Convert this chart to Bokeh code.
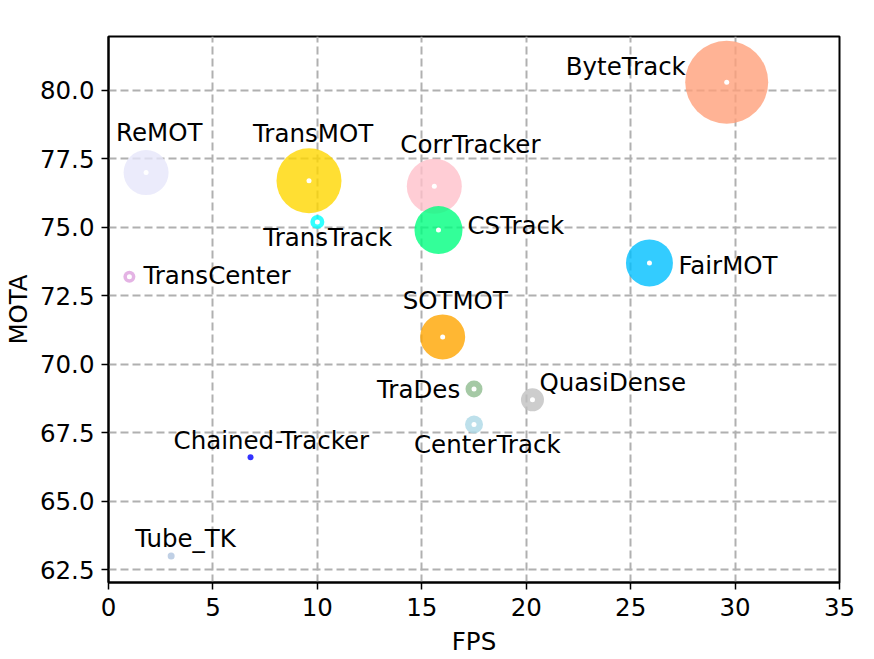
from bokeh.plotting import figure
from bokeh.models import ColumnDataSource, Range1d, FixedTicker, PrintfTickFormatter
from bokeh.core.properties import value
from bokeh.embed import file_html
from bokeh.resources import INLINE

# ---- data ----
trackers = ["ReMOT", "TransMOT", "TransTrack", "TransCenter", "CorrTracker", "CSTrack",
            "ByteTrack", "FairMOT", "SOTMOT", "TraDes", "QuasiDense", "CenterTrack",
            "Chained-Tracker", "Tube_TK"]
fps = [1.8, 9.6, 10.0, 1.0, 15.6, 15.8, 29.6, 25.9, 16.0, 17.5, 20.3, 17.5, 6.8, 3.0]
mota = [77.0, 76.7, 75.2, 73.2, 76.5, 74.9, 80.3, 73.7, 71.0, 69.1, 68.7, 67.8, 66.6, 63.0]
bubble = [45, 65, 14, 12, 55, 48, 83, 47, 45, 17, 23, 18, 6, 7]

x_ticks = [0, 5, 10, 15, 20, 25, 30, 35]
y_ticks = [62.5, 65.0, 67.5, 70.0, 72.5, 75.0, 77.5, 80.0]

# ---- styling ----
colors = ["lavender", "gold", "cyan", "plum", "pink", "springgreen", "lightsalmon",
          "deepskyblue", "orange", "darkseagreen", "silver", "lightblue", "blue",
          "lightsteelblue"]
# label offsets in screen pixels (left edge, vertical centre) relative to the point
label_dx = [-30, -56, -54, 14, -34, 29, -161, 29, -40, -97, 7, -60, -77, -36]
label_dy = [-40, -47, 16, -1, -42, -5, -16, 3, -36, 1, -17, 20, -17, -17]
dot_size = [5, 5, 5, 5, 5, 5, 5, 5, 5, 5, 5, 5, 0, 0]

FONT = "DejaVu Sans"
FS = "24.5px"

p = figure(frame_width=731, frame_height=546, output_backend="svg", toolbar_location=None,
           x_range=Range1d(0, 35), y_range=Range1d(62.03, 81.97),
           min_border_left=100, min_border_right=36, min_border_top=36, min_border_bottom=70)
p.background_fill_color = "white"
p.border_fill_color = "white"
p.outline_line_color = "black"
p.outline_line_width = 2

for ax in (p.xaxis[0], p.yaxis[0]):
    ax.axis_line_color = "black"
    ax.axis_line_width = 2
    ax.major_tick_out = 7
    ax.major_tick_in = 0
    ax.major_tick_line_width = 1.5
    ax.major_tick_line_color = "black"
    ax.minor_tick_line_color = None
    ax.major_label_text_font = FONT
    ax.major_label_text_font_size = FS
    ax.major_label_text_color = "black"
    ax.axis_label_text_font = FONT
    ax.axis_label_text_font_size = FS
    ax.axis_label_text_font_style = "normal"
    ax.axis_label_text_color = "black"

p.xaxis.major_label_standoff = 8
p.yaxis.major_label_standoff = 7
p.xaxis.ticker = FixedTicker(ticks=x_ticks)
p.yaxis.ticker = FixedTicker(ticks=y_ticks)
p.yaxis.formatter = PrintfTickFormatter(format="%.1f")
p.xaxis.axis_label = "FPS"
p.yaxis.axis_label = "MOTA"
p.xaxis.axis_label_standoff = 8
p.yaxis.axis_label_standoff = 4

p.grid.grid_line_color = "#b0b0b0"
p.grid.grid_line_width = 2
p.grid.grid_line_dash = "8 4"

for i in range(len(trackers)):
    src = ColumnDataSource(dict(x=[fps[i]], y=[mota[i]]))
    p.scatter("x", "y", source=src, size=bubble[i], fill_color=colors[i],
              fill_alpha=0.8, line_color=None)
    if dot_size[i] > 0:
        p.scatter("x", "y", source=src, size=dot_size[i], fill_color="white",
                  line_color=None)

lab = ColumnDataSource(dict(x=fps, y=mota, t=trackers, dx=label_dx, dy=label_dy))
p.text("x", "y", text="t", source=lab, x_offset="dx", y_offset="dy",
       text_font=value(FONT), text_font_size=FS, text_color="black",
       text_align="left", text_baseline="middle")

open("out.html", "w").write(file_html(p, INLINE))
